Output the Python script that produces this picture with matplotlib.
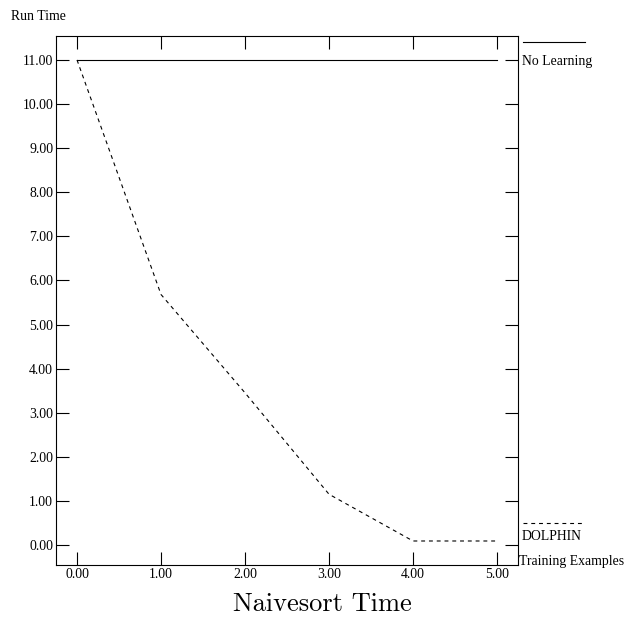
import matplotlib

matplotlib.use("Agg")
import matplotlib.pyplot as plt
from matplotlib.lines import Line2D

# data
examples = [0, 1, 2, 3, 4, 5]
no_learning = [11.0, 11.0, 11.0, 11.0, 11.0, 11.0]
dolphin = [11.0, 5.68, 3.45, 1.15, 0.09, 0.09]
x_ticks = [0, 1, 2, 3, 4, 5]
y_ticks = [0, 1, 2, 3, 4, 5, 6, 7, 8, 9, 10, 11]

SERIF = "Liberation Serif"
FS = 9.9

fig = plt.figure(figsize=(6.26, 6.18), dpi=100)
ax = fig.add_axes([0.0895, 0.0858, 0.738, 0.856])

ax.plot(examples, no_learning, color="black", linewidth=0.8)
ax.plot(examples, dolphin, color="black", linewidth=0.8, linestyle=(0, (3.5, 3.5)))

ax.set_xlim(-0.25, 5.25)
ax.set_ylim(-0.454, 11.544)
ax.set_xticks(x_ticks, [f"{v:.2f}" for v in x_ticks])
ax.set_yticks(y_ticks, [f"{v:.2f}" for v in y_ticks])
ax.tick_params(axis="both", direction="in", length=9.4, width=0.8, pad=2,
               labelsize=FS, top=True, right=True)
for lab in ax.get_xticklabels() + ax.get_yticklabels():
    lab.set_fontfamily(SERIF)
for sp in ax.spines.values():
    sp.set_linewidth(0.8)

# axis captions
fig.text(11 / 626, 1 - 16 / 618, "Run Time", family=SERIF, fontsize=FS,
         ha="left", va="center")
fig.text(519 / 626, 1 - 561 / 618, "Training Examples", family=SERIF,
         fontsize=FS, ha="left", va="center")
fig.text(322 / 626, 1 - 604 / 618, "Naivesort Time", family="cmr10",
         fontsize=19, ha="center", va="center")

# legend keys at the right of the frame
fig.add_artist(Line2D([523 / 626, 585 / 626], [1 - 42 / 618, 1 - 42 / 618],
                      transform=fig.transFigure, color="black", linewidth=0.8))
fig.text(522 / 626, 1 - 61 / 618, "No Learning", family=SERIF, fontsize=FS,
         ha="left", va="center")
fig.add_artist(Line2D([523 / 626, 583 / 626], [1 - 523 / 618, 1 - 523 / 618],
                      transform=fig.transFigure, color="black", linewidth=0.8,
                      linestyle=(0, (3.5, 3.5))))
fig.text(522 / 626, 1 - 536 / 618, "DOLPHIN", family=SERIF, fontsize=FS,
         ha="left", va="center")

fig.savefig("out.png", dpi=100)
plt.close(fig)
